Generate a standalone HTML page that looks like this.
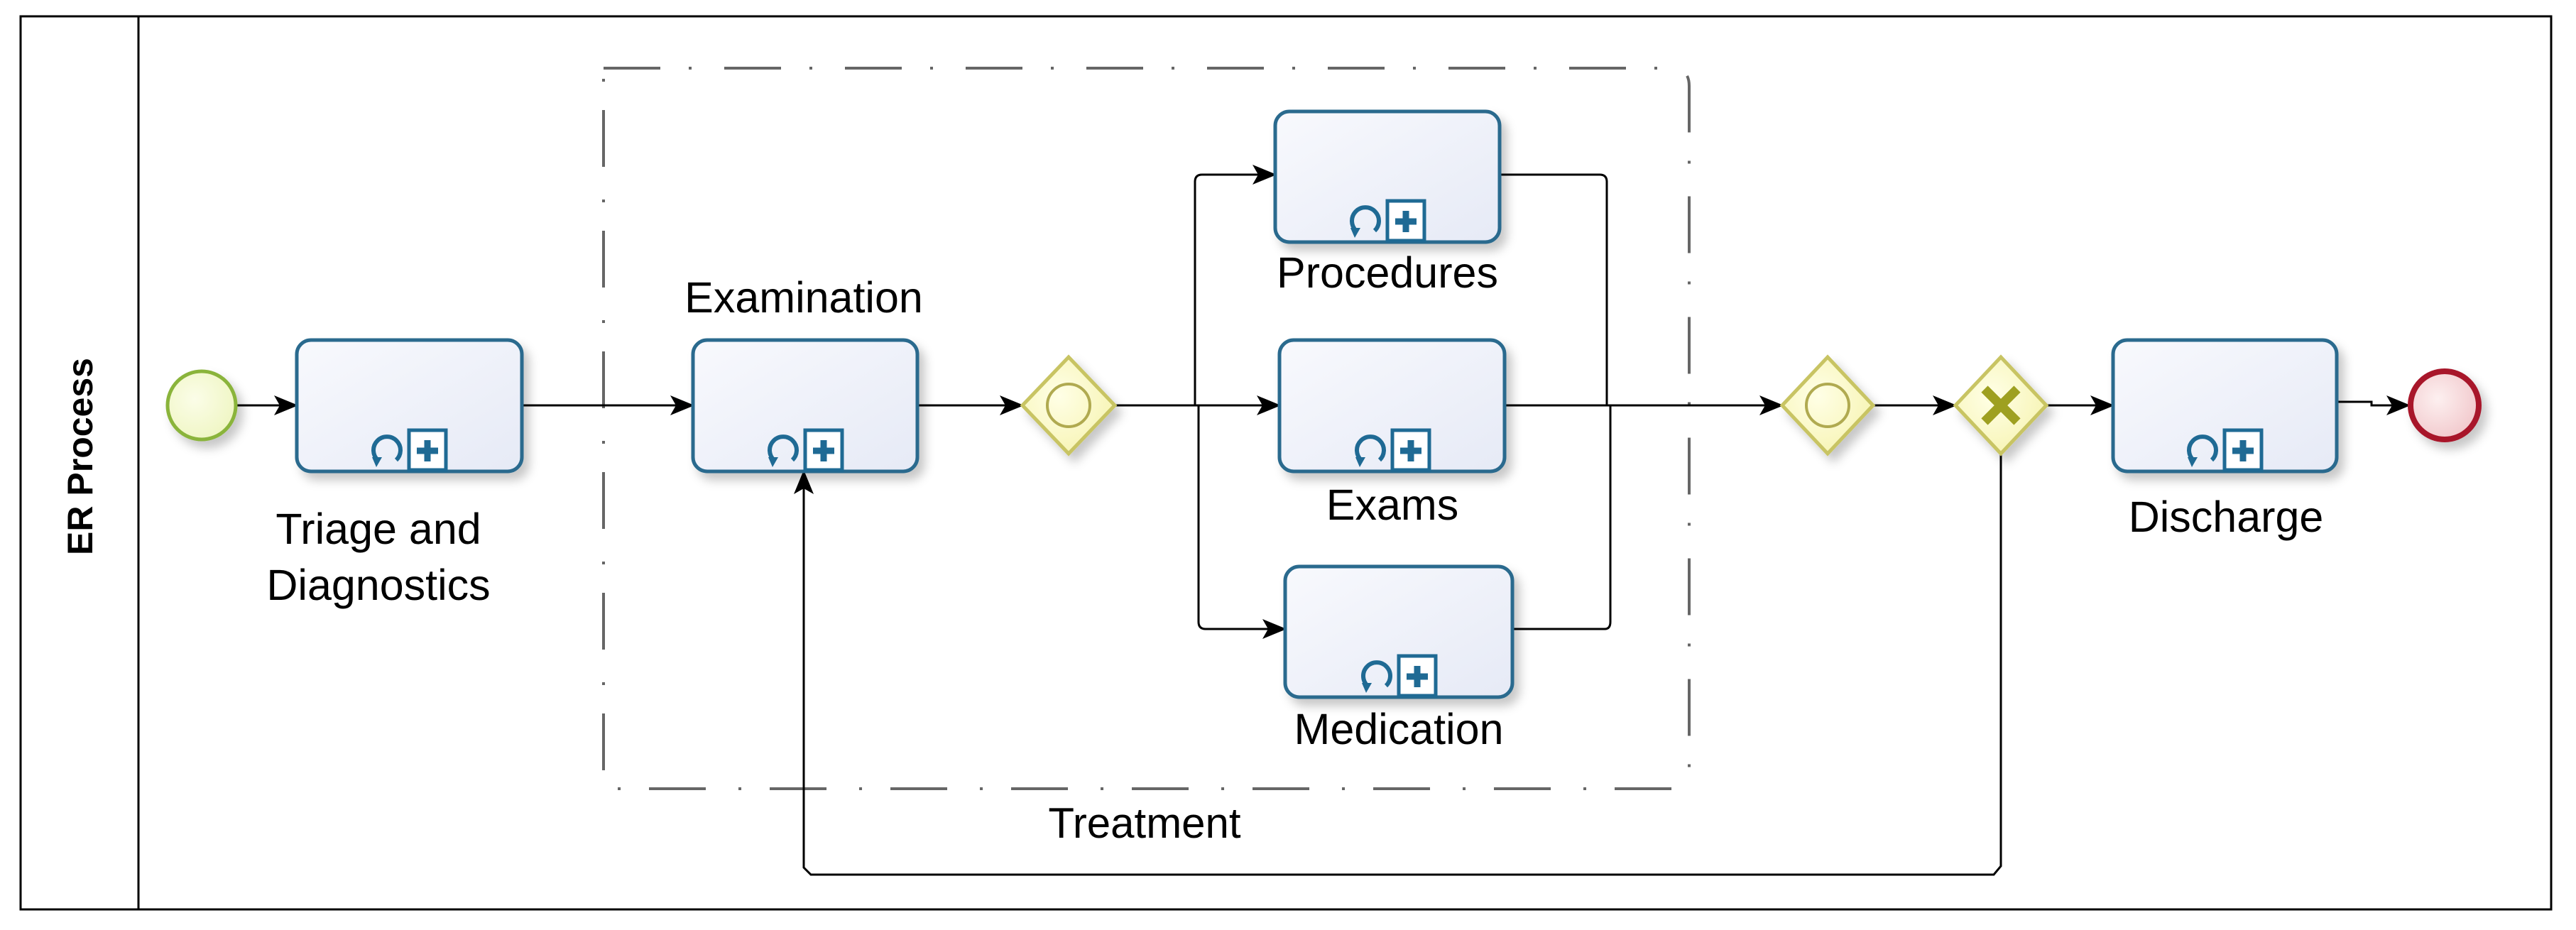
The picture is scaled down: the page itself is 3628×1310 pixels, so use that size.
<!DOCTYPE html>
<html><head><meta charset="utf-8"><style>
html,body{margin:0;padding:0;background:#fff;}
svg{display:block;}
text{font-family:"Liberation Sans",sans-serif;fill:#000;}
</style></head><body>
<svg width="3628" height="1310" viewBox="0 0 3628 1310" xmlns="http://www.w3.org/2000/svg">
<defs>
<marker id="ar" markerWidth="34" markerHeight="28" refX="32" refY="14" orient="auto" markerUnits="userSpaceOnUse">
<path d="M0,0 L34,14 L0,28 L8,14 Z" fill="#000"/>
</marker>
<linearGradient id="tg" x1="0" y1="0" x2="1" y2="1">
<stop offset="0" stop-color="#f8f9fd"/><stop offset="1" stop-color="#e6eaf6"/>
</linearGradient>
<radialGradient id="sg" cx="0.4" cy="0.4" r="0.7">
<stop offset="0" stop-color="#fbfde8"/><stop offset="1" stop-color="#eef5c0"/>
</radialGradient>
<radialGradient id="eg" cx="0.4" cy="0.4" r="0.7">
<stop offset="0" stop-color="#fdf0f0"/><stop offset="1" stop-color="#f0c4c8"/>
</radialGradient>
<radialGradient id="gg" cx="0.4" cy="0.4" r="0.7">
<stop offset="0" stop-color="#ffffe6"/><stop offset="1" stop-color="#f6f3b0"/>
</radialGradient>
<filter id="sh" x="-20%" y="-20%" width="150%" height="150%">
<feDropShadow dx="8" dy="10" stdDeviation="7" flood-color="#000" flood-opacity="0.22"/>
</filter>
<g id="icons">
<path d="M-44,10 A19,19 0 1 1 -18,10" fill="none" stroke="#1f6a94" stroke-width="6"/>
<path d="M-52,6 L-38,6 L-46,20 Z" fill="#1f6a94"/>
<rect x="0" y="-32" width="52" height="56" fill="#fff" stroke="#1f6a94" stroke-width="5"/>
<path d="M26,-18 v30 M11,-3 h30" stroke="#1f6a94" stroke-width="9"/>
</g>
</defs>

<!-- pool -->
<rect x="29" y="23" width="3564" height="1258" fill="none" stroke="#000" stroke-width="3"/>
<line x1="195" y1="23" x2="195" y2="1281" stroke="#000" stroke-width="3"/>
<text transform="translate(130,643) rotate(-90)" text-anchor="middle" font-size="50" font-weight="bold">ER Process</text>

<!-- group -->
<path d="M850,96 H2354 Q2379,96 2379,121 V1086 Q2379,1111 2354,1111 H850 Z" fill="none" stroke="#666" stroke-width="4" stroke-dasharray="80 40 4 46"/>
<text x="1612" y="1180" text-anchor="middle" font-size="60">Treatment</text>

<!-- connectors -->
<g fill="none" stroke="#000" stroke-width="3">
<line x1="334" y1="571" x2="418" y2="571" marker-end="url(#ar)"/>
<line x1="735" y1="571" x2="976" y2="571" marker-end="url(#ar)"/>
<line x1="1292" y1="571" x2="1440" y2="571" marker-end="url(#ar)"/>
<line x1="1570" y1="571" x2="1802" y2="571" marker-end="url(#ar)"/>
<path d="M1683,571 V256 Q1683,246 1693,246 H1796" marker-end="url(#ar)"/>
<path d="M1688,571 V876 Q1688,886 1698,886 H1810" marker-end="url(#ar)"/>
<path d="M2112,246 H2253 Q2263,246 2263,256 V571"/>
<path d="M2130,886 H2260 Q2268,886 2268,876 V571"/>
<path d="M2119,571 H2510" marker-end="url(#ar)"/>
<line x1="2638" y1="571" x2="2754" y2="571" marker-end="url(#ar)"/>
<line x1="2882" y1="571" x2="2976" y2="571" marker-end="url(#ar)"/>
<path d="M3291,566 H3340 V571 H3393" marker-end="url(#ar)"/>
<path d="M2818,639 V1220 L2808,1232 H1142 L1132,1222 V664" marker-end="url(#ar)"/>
</g>

<!-- start -->
<circle cx="284" cy="571" r="48" fill="url(#sg)" stroke="#8ab43a" stroke-width="5" filter="url(#sh)"/>
<!-- end -->
<circle cx="3443" cy="571" r="48" fill="url(#eg)" stroke="#a8162a" stroke-width="8" filter="url(#sh)"/>

<!-- tasks -->
<g stroke="#2a6a8e" stroke-width="5" fill="url(#tg)" filter="url(#sh)">
<rect x="418" y="479" width="317" height="185" rx="20"/>
<rect x="976" y="479" width="316" height="185" rx="20"/>
<rect x="1796" y="157" width="316" height="184" rx="20"/>
<rect x="1802" y="479" width="317" height="185" rx="20"/>
<rect x="1810" y="798" width="320" height="184" rx="20"/>
<rect x="2976" y="479" width="315" height="185" rx="20"/>
</g>
<use href="#icons" x="576" y="638"/>
<use href="#icons" x="1134" y="638"/>
<use href="#icons" x="1954" y="315"/>
<use href="#icons" x="1961" y="638"/>
<use href="#icons" x="1970" y="956"/>
<use href="#icons" x="3133" y="638"/>

<!-- gateways -->
<g fill="url(#gg)" stroke="#c8c464" stroke-width="5" filter="url(#sh)">
<path d="M1505,503 L1570,571 L1505,639 L1440,571 Z"/>
<path d="M2574,503 L2638,571 L2574,639 L2510,571 Z"/>
<path d="M2818,503 L2882,571 L2818,639 L2754,571 Z"/>
</g>
<circle cx="1505" cy="571" r="30" fill="none" stroke="#b0aa50" stroke-width="4"/>
<circle cx="2574" cy="571" r="30" fill="none" stroke="#b0aa50" stroke-width="4"/>
<path d="M2795,548 L2841,594 M2841,548 L2795,594" stroke="#9ea020" stroke-width="13"/>

<!-- labels -->
<g font-size="61" text-anchor="middle">
<text x="533" y="766">Triage and</text>
<text x="533" y="845">Diagnostics</text>
<text x="1132" y="440">Examination</text>
<text x="1954" y="405">Procedures</text>
<text x="1961" y="732">Exams</text>
<text x="1970" y="1048">Medication</text>
<text x="3135" y="749">Discharge</text>
</g>
</svg>
</body></html>
